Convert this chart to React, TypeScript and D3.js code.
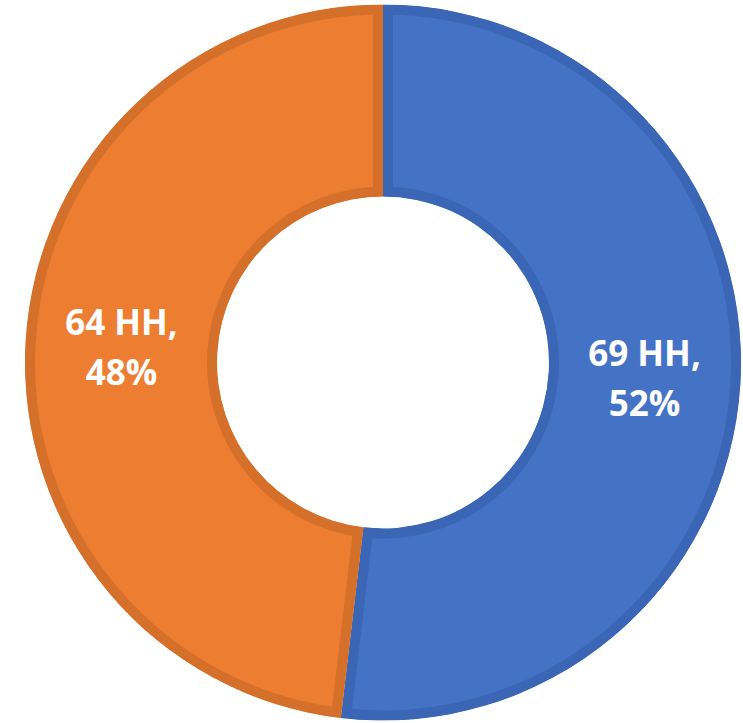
import React from "react";
import * as d3 from "d3";

// Household split shown as a two-slice donut
const categories: string[] = ["A", "B"];
const households: number[] = [69, 64];
const percentLabels: string[] = ["52%", "48%"];
const fills: string[] = ["#4472C4", "#ED7D31"];
const borders: string[] = ["#3A66B5", "#D5702B"];

const WIDTH = 743;
const HEIGHT = 723;
const CX = 383;
const CY = 362.5;
const OUTER = 358;
const INNER = 166;
const BORDER = 10;

export default function App() {
  const pie = d3
    .pie<number>()
    .sort(null)
    .value((d) => d);
  const arcs = pie(households);
  const arcGen = d3
    .arc<d3.PieArcDatum<number>>()
    .innerRadius(INNER)
    .outerRadius(OUTER);

  return (
    <svg
      width={WIDTH}
      height={HEIGHT}
      style={{ position: "absolute", left: 0, top: 0 }}
    >
      <defs>
        {arcs.map((a, i) => (
          <clipPath id={`slice-clip-${i}`} key={i}>
            <path d={arcGen(a) || ""} />
          </clipPath>
        ))}
      </defs>
      <g transform={`translate(${CX},${CY})`}>
        {arcs.map((a, i) => (
          <path
            key={categories[i]}
            d={arcGen(a) || ""}
            fill={fills[i]}
            stroke={borders[i]}
            strokeWidth={BORDER * 2}
            strokeLinejoin="miter"
            clipPath={`url(#slice-clip-${i})`}
          />
        ))}
        {arcs.map((a, i) => {
          const [x, y] = arcGen.centroid(a);
          return (
            <text
              key={`label-${i}`}
              x={x}
              y={y}
              textAnchor="middle"
              fill="#ffffff"
              fontFamily="'Open Sans', sans-serif"
              fontWeight={700}
              fontSize={35}
            >
              <tspan x={x} dy={-12}>{`${households[i]} HH,`}</tspan>
              <tspan x={x} dy={50}>{percentLabels[i]}</tspan>
            </text>
          );
        })}
      </g>
    </svg>
  );
}
